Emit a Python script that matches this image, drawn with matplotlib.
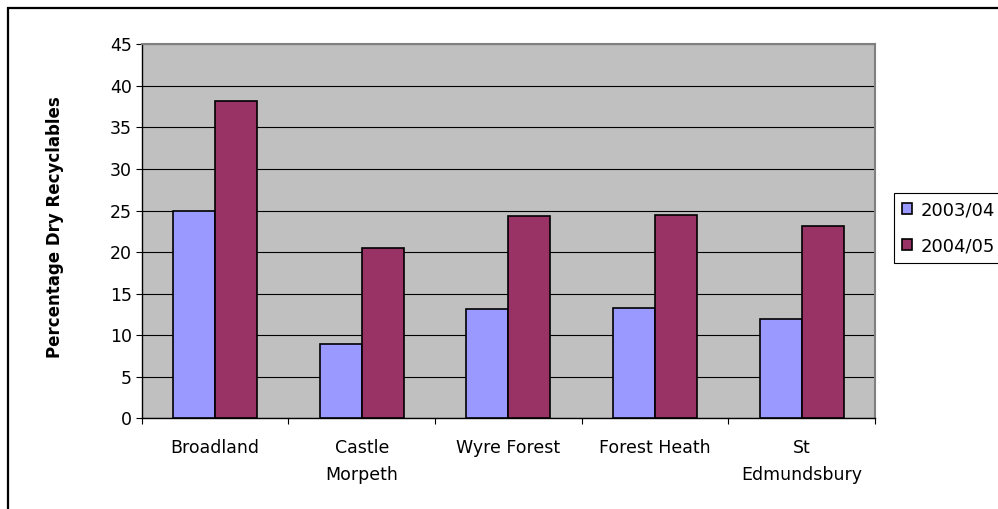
import numpy as np
import matplotlib
matplotlib.use("Agg")
import matplotlib.pyplot as plt
from matplotlib.patches import Rectangle

plt.rcParams['font.family'] = ['DejaVu Sans']

# recycling rates per council
councils = ['Broadland', 'Castle\nMorpeth', 'Wyre Forest', 'Forest Heath', 'St\nEdmundsbury']
years = ['2003/04', '2004/05']
pct_0304 = [24.9, 8.9, 13.2, 13.3, 12.0]
pct_0405 = [38.2, 20.5, 24.3, 24.5, 23.1]
yticks = [0, 5, 10, 15, 20, 25, 30, 35, 40, 45]

W, H = 998, 509
fig = plt.figure(figsize=(W/100., H/100.), dpi=100)
ax = fig.add_axes([141.7/W, 1 - 418.3/H, 733.3/W, 374.0/H])

ax.set_facecolor('#C0C0C0')
x = np.arange(len(councils))
bw = 1/3.5
ax.bar(x - bw/2, pct_0304, bw, color='#9999FF', edgecolor='black', linewidth=1.2, label=years[0], zorder=3)
ax.bar(x + bw/2, pct_0405, bw, color='#993366', edgecolor='black', linewidth=1.2, label=years[1], zorder=3)

ax.set_xlim(-0.5, len(councils) - 0.5)
ax.set_ylim(0, 45)
ax.set_yticks(yticks)
ax.yaxis.grid(True, color='black', linewidth=0.8, zorder=1)
ax.tick_params(axis='y', direction='out', length=4, width=0.8, labelsize=12.5, pad=3)

# category labels at centres, tick marks at the boundaries
ax.set_xticks(x)
ax.set_xticklabels(councils, fontsize=12.5, linespacing=1.6)
ax.tick_params(axis='x', which='major', length=0, pad=15)
ax.set_xticks(np.arange(len(councils) + 1) - 0.5, minor=True)
ax.tick_params(axis='x', which='minor', direction='out', length=4, width=0.8)

for side in ['left', 'bottom']:
    ax.spines[side].set_color('black')
    ax.spines[side].set_linewidth(1.0)
for side in ['top', 'right']:
    ax.spines[side].set_color('#808080')
    ax.spines[side].set_linewidth(1.5)

ax.set_ylabel('Percentage Dry Recyclables', fontsize=12, fontweight='bold')
ax.yaxis.set_label_coords(-0.106, 0.51)

leg = fig.legend(loc='upper left', bbox_to_anchor=(894/W, 1 - 193/H), fontsize=13,
                 frameon=True, fancybox=False, edgecolor='black', framealpha=1,
                 handlelength=0.55, handleheight=0.55, handletextpad=0.45,
                 borderpad=0.45, labelspacing=1.0, borderaxespad=0)
leg.get_frame().set_linewidth(0.8)

# outer chart border
fig.patches.append(Rectangle((8/W, -0.1), 1.2, 1.1 - 8/H, transform=fig.transFigure,
                             fill=False, edgecolor='black', linewidth=1.6))

fig.savefig('out.png', dpi=100)
